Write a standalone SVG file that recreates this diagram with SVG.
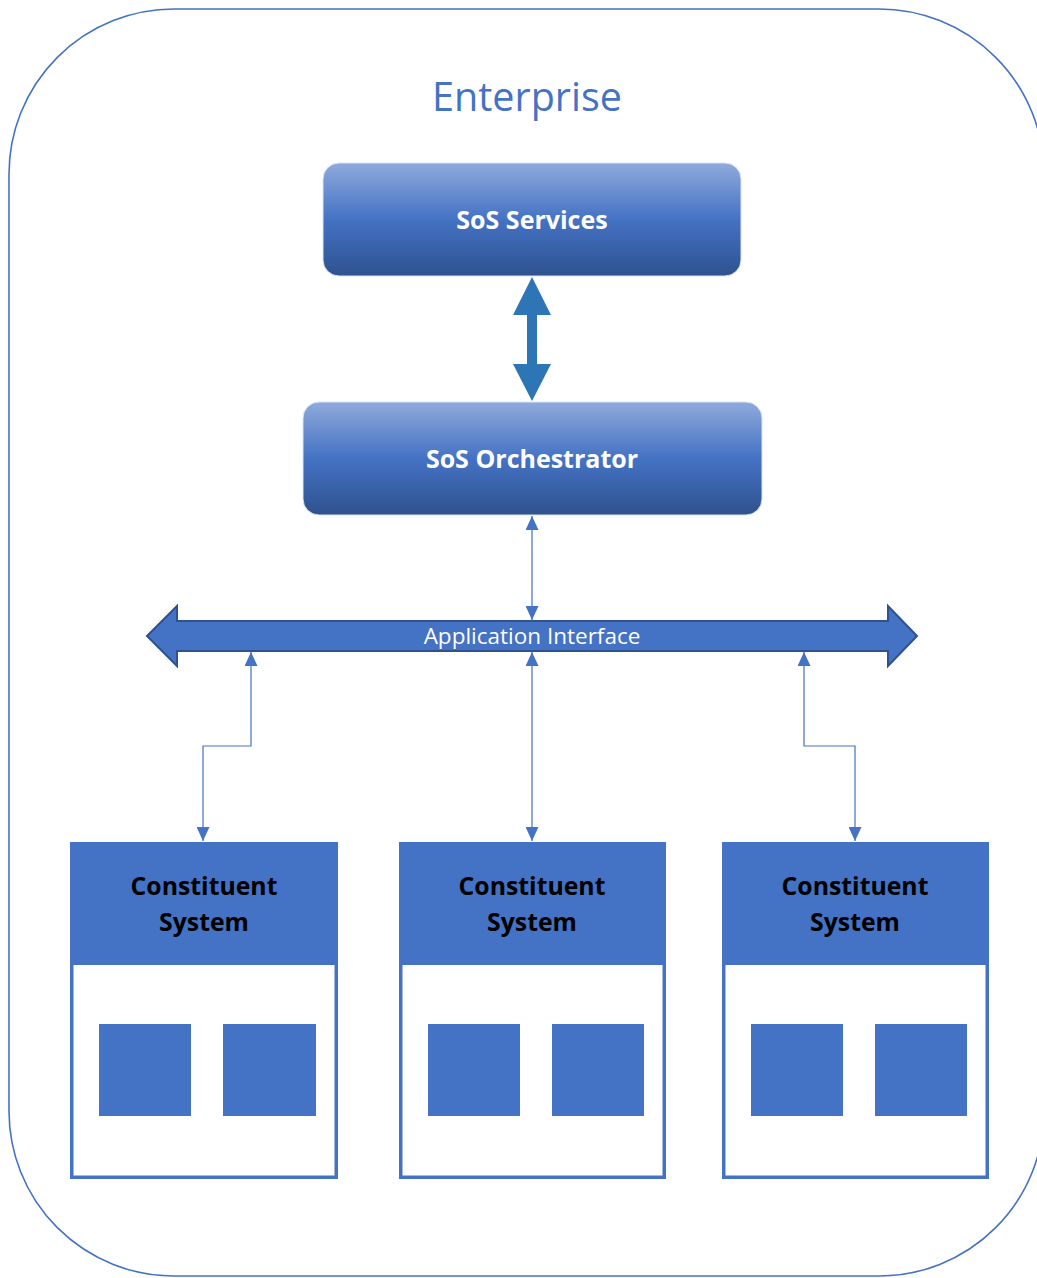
<svg xmlns="http://www.w3.org/2000/svg" width="1037" height="1278" viewBox="0 0 1037 1278">
<style>
.frame{fill:none;stroke:#4472C4;stroke-width:1.6}
.title{font-family:"Open Sans","Liberation Sans",sans-serif;font-size:39.5px;fill:#4472C4;text-anchor:middle}
.gbox{fill:url(#grad);stroke:#DAE3F3;stroke-width:1}
.glabel{font-family:"Open Sans","Liberation Sans",sans-serif;font-weight:bold;font-size:25px;fill:#ffffff;text-anchor:middle}
.conn{fill:none;stroke:#4472C4;stroke-width:1.2}
.cs-body{fill:#ffffff;stroke:#4472C4;stroke-width:3.5}
.cs-head{fill:#4472C4}
.cs-sq{fill:#4472C4}
.cs-label{font-family:"Open Sans","Liberation Sans",sans-serif;font-weight:bold;font-size:24.8px;fill:#000000;text-anchor:middle}
.ai-label{font-family:"Open Sans","Liberation Sans",sans-serif;font-size:22.5px;fill:#ffffff;text-anchor:middle}
</style>
<defs>
<linearGradient id="grad" x1="0" y1="0" x2="0" y2="1">
<stop offset="0" stop-color="#8FAADC"/>
<stop offset="0.5" stop-color="#4472C4"/>
<stop offset="1" stop-color="#2F528F"/>
</linearGradient>
<marker id="ah" viewBox="0 0 14 13" refX="14" refY="6.5" markerWidth="14" markerHeight="13" markerUnits="userSpaceOnUse" orient="auto-start-reverse">
<path d="M0,0 L14,6.5 L0,13 Z" fill="#4472C4"/>
</marker>
</defs>
<rect class="frame" x="9" y="9" width="1035" height="1267" rx="165" ry="165"/>
<text class="title" x="527" y="111">Enterprise</text>

<g id="sos-services">
<rect class="gbox" x="323" y="163" width="418" height="113" rx="16" ry="16"/>
<text class="glabel" x="532" y="229">SoS Services</text>
</g>

<g id="sos-orchestrator">
<rect class="gbox" x="303" y="402" width="459" height="113" rx="16" ry="16"/>
<text class="glabel" x="532" y="468">SoS Orchestrator</text>
</g>

<g id="application-interface">
<path d="M147,636 L177,606 L177,621 L888,621 L888,606 L917,636 L888,666 L888,651 L177,651 L177,666 Z" fill="#4472C4" stroke="#2F528F" stroke-width="2" stroke-linejoin="miter"/>
<text class="ai-label" x="532" y="644">Application Interface</text>
</g>

<g id="constituent-1">
<rect class="cs-body" x="71.75" y="843.75" width="264.5" height="333.5"/>
<rect class="cs-head" x="70" y="842" width="268" height="123"/>
<text class="cs-label" x="204" y="895">Constituent</text>
<text class="cs-label" x="204" y="931">System</text>
<rect class="cs-sq" x="99" y="1024" width="92" height="92"/>
<rect class="cs-sq" x="223" y="1024" width="93" height="92"/>
</g>

<g id="constituent-2">
<rect class="cs-body" x="400.75" y="843.75" width="263.5" height="333.5"/>
<rect class="cs-head" x="399" y="842" width="267" height="123"/>
<text class="cs-label" x="532" y="895">Constituent</text>
<text class="cs-label" x="532" y="931">System</text>
<rect class="cs-sq" x="428" y="1024" width="92" height="92"/>
<rect class="cs-sq" x="552" y="1024" width="92" height="92"/>
</g>

<g id="constituent-3">
<rect class="cs-body" x="723.75" y="843.75" width="263.5" height="333.5"/>
<rect class="cs-head" x="722" y="842" width="267" height="123"/>
<text class="cs-label" x="855" y="895">Constituent</text>
<text class="cs-label" x="855" y="931">System</text>
<rect class="cs-sq" x="751" y="1024" width="92" height="92"/>
<rect class="cs-sq" x="875" y="1024" width="92" height="92"/>
</g>

<g id="connectors">
<path d="M532,277 L551,315 L537,315 L537,364 L551,364 L532,401 L513,364 L527,364 L527,315 L513,315 Z" fill="#2E75B6"/>
<path class="conn" d="M532,516 L532,620" marker-start="url(#ah)" marker-end="url(#ah)"/>
<path class="conn" d="M251,652 L251,746 L203,746 L203,841" marker-start="url(#ah)" marker-end="url(#ah)"/>
<path class="conn" d="M532,652 L532,841" marker-start="url(#ah)" marker-end="url(#ah)"/>
<path class="conn" d="M804,652 L804,746 L855,746 L855,841" marker-start="url(#ah)" marker-end="url(#ah)"/>
</g>
</svg>
